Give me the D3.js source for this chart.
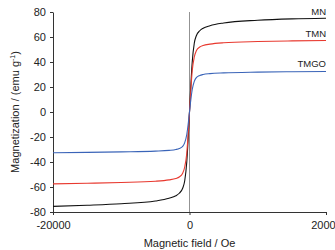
<!DOCTYPE html>
<html lang="en">
<head>
<meta charset="UTF-8">
<title>Magnetization curves</title>
<style>
  body { margin: 0; background: #fff; font-family: "Liberation Sans", Arial, sans-serif; }
  .axis text { font-size: 11px; fill: #222; font-family: "Liberation Sans", Arial, sans-serif; }
  .axis path, .axis line { stroke: #333; }
</style>
</head>
<body>
<svg id="chart" width="335" height="250"></svg>
<script src="https://d3js.org/d3.v7.min.js"></script>
<script>
// field values (Oe) shared by all curves
const field = [-20000, -15000, -10000, -5000, -3000, -2000, -1500, -1000, -700, -400, -200, 0,
               200, 400, 700, 1000, 1500, 2000, 3000, 5000, 10000, 15000, 20000];
const mn   = [-75.5, -74.6, -73.4, -71.2, -69, -67, -65, -61, -55, -40, -22, 0,
               22, 40, 55, 61, 65, 67, 69, 71.2, 73.4, 74.5, 75];
const tmn  = [-57.5, -57, -56.4, -55.4, -54.3, -53.2, -52, -49, -44, -33, -18, 0,
               18, 33, 44, 49, 52, 53.2, 54.3, 55.4, 56.4, 56.9, 57.2];
const tmgo = [-32.6, -32.3, -31.9, -31.3, -30.7, -30, -29.2, -27.5, -24.5, -18, -10, 0,
               10, 18, 24.5, 27.5, 29.2, 30, 30.7, 31.3, 31.9, 32.2, 32.4];
const seriesNames = ["MN", "TMN", "TMGO"];
const seriesColors = ["#111111", "#e8392f", "#3a64b8"];
const xTicks = [-20000, 0, 20000];
const yTicks = [-80, -60, -40, -20, 0, 20, 40, 60, 80];

const svg = d3.select("#chart");
const x = d3.scaleLinear().domain([-20000, 20000]).range([53, 326]);
const y = d3.scaleLinear().domain([-80, 80]).range([212, 12]);

// zero line
svg.append("line")
  .attr("x1", x(0)).attr("x2", x(0))
  .attr("y1", y(80)).attr("y2", y(-80))
  .attr("stroke", "#777").attr("stroke-width", 0.8);

const xAxis = svg.append("g").attr("class", "axis")
  .attr("transform", `translate(0,${y(-80)})`)
  .call(d3.axisBottom(x).tickValues(xTicks).tickSize(3).tickSizeOuter(0).tickFormat(d => String(d)));
xAxis.selectAll("text").attr("dy", "1em");

const yAxis = svg.append("g").attr("class", "axis")
  .attr("transform", `translate(${x(-20000)},0)`)
  .call(d3.axisLeft(y).tickValues(yTicks).tickSize(3).tickSizeOuter(0).tickFormat(d => String(d)));
yAxis.selectAll("text").attr("x", -7);

const line = d3.line().x((d, i) => x(field[i])).y(d => y(d)).curve(d3.curveMonotoneX);
[mn, tmn, tmgo].forEach((vals, k) => {
  svg.append("path")
    .attr("d", line(vals))
    .attr("fill", "none")
    .attr("stroke", seriesColors[k])
    .attr("stroke-width", 1.1);
});

// labels
const labelY = [15, 37, 67];
seriesNames.forEach((n, k) => {
  svg.append("text").attr("x", x(20000)).attr("y", labelY[k])
    .attr("text-anchor", "end").attr("font-size", 9.5).attr("fill", "#222")
    .text(n);
});

svg.append("text").attr("x", x(0)).attr("y", 247)
  .attr("text-anchor", "middle").attr("font-size", 11).attr("fill", "#222")
  .text("Magnetic field / Oe");

const yt = svg.append("text")
  .attr("transform", `translate(19,${y(0)}) rotate(-90)`)
  .attr("text-anchor", "middle").attr("font-size", 11).attr("fill", "#222");
yt.append("tspan").text("Magnetization / (emu g");
yt.append("tspan").attr("dy", -4).attr("font-size", 7).text("-1");
yt.append("tspan").attr("dy", 4).text(")");
</script>
</body>
</html>
